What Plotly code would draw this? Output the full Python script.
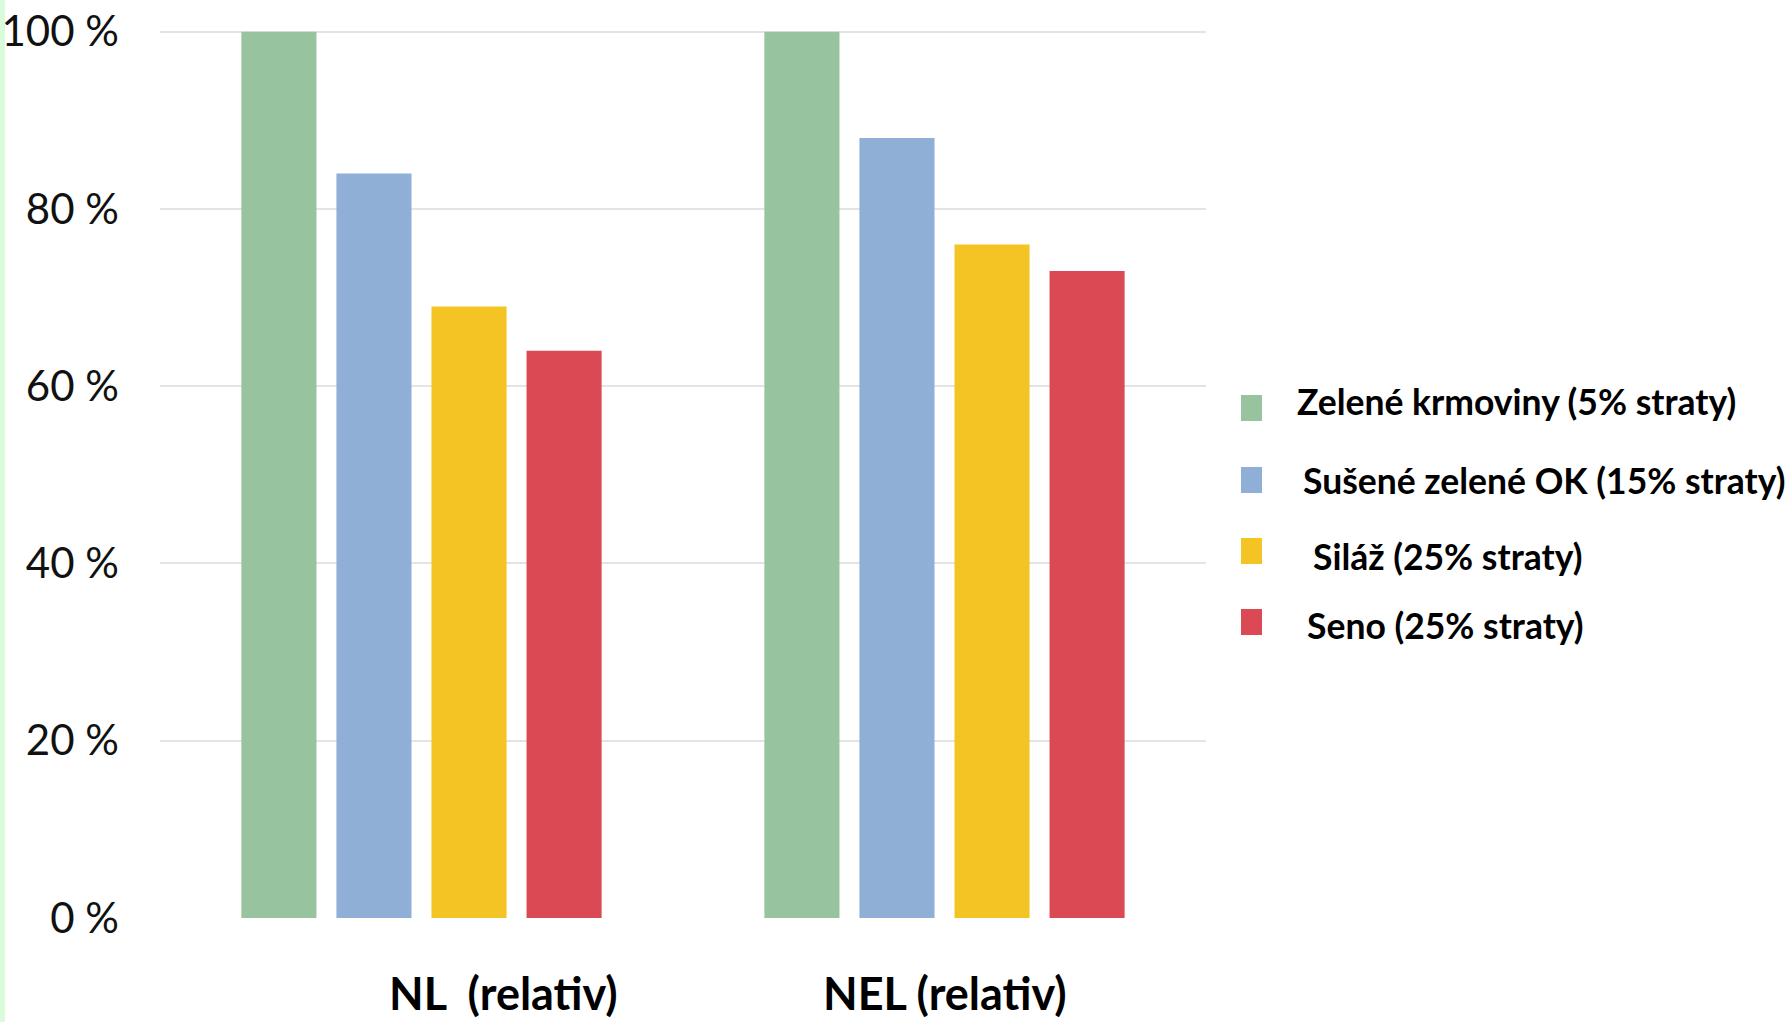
import plotly.graph_objects as go

# ---- data -------------------------------------------------------------
categories = ["NL  (relativ)", "NEL (relativ)"]
series_names = [
    "Zelené krmoviny (5% straty)",
    "Sušené zelené OK (15% straty)",
    "Siláž (25% straty)",
    "Seno (25% straty)",
]
zelene_krmoviny = [100, 100]
susene_zelene_ok = [84, 88]
silaz = [69, 76]
seno = [64, 73]
tick_values = [0, 20, 40, 60, 80, 100]
tick_labels = ["0 %", "20 %", "40 %", "60 %", "80 %", "100 %"]

# ---- style ------------------------------------------------------------
colors = ["#98c39f", "#8fafd7", "#f4c425", "#db4a54"]
FONT = "Lato, Carlito, Calibri, sans-serif"

W, H = 1787, 1022
L, R = 160, 1206          # plot area, pixels
T, B = 14, 918
PW, PH = R - L, B - T


def px_x(x):
    return (x - L) / PW


def px_y(y):
    return (B - y) / PH


fig = go.Figure()
values = [zelene_krmoviny, susene_zelene_ok, silaz, seno]
for name, vals, col in zip(series_names, values, colors):
    fig.add_trace(go.Bar(
        x=categories, y=vals, name=name,
        marker=dict(color=col, line=dict(width=0)),
        showlegend=False,
    ))

# category labels under the groups
label_shift = [82, 0]
for cat, dx in zip(categories, label_shift):
    fig.add_annotation(
        x=cat, xref="x", y=0, yref="paper", yanchor="middle", xanchor="center",
        yshift=-(993 - B), xshift=dx, showarrow=False,
        text=f"<b>{cat.replace('  ', '&nbsp; ')}</b>",
        font=dict(family=FONT, size=45, color="#000000"),
    )

# legend drawn as swatches + labels
row_mid = [408, 480, 551, 622]
text_mid = [401, 480, 556, 625]
text_x = [1295, 1301, 1311, 1305]
for name, col, ym, ty, tx in zip(series_names, colors, row_mid, text_mid, text_x):
    fig.add_shape(
        type="rect", xref="paper", yref="paper",
        x0=px_x(1241), x1=px_x(1262), y0=px_y(ym + 13), y1=px_y(ym - 13),
        fillcolor=col, line=dict(width=0),
    )
    fig.add_annotation(
        x=px_x(tx), y=px_y(ty), xref="paper", yref="paper",
        xanchor="left", yanchor="middle", showarrow=False,
        text=f"<b>{name}</b>",
        font=dict(family=FONT, size=35.5, color="#000000"),
    )

# thin green strip along the left edge
fig.add_shape(
    type="rect", xref="paper", yref="paper",
    x0=px_x(0), x1=px_x(5), y0=px_y(H), y1=px_y(0),
    fillcolor="#dbfcdb", line=dict(width=0), layer="below",
)

fig.update_layout(
    width=W, height=H,
    margin=dict(l=L, r=W - R, t=T, b=H - B, pad=0, autoexpand=False),
    paper_bgcolor="white", plot_bgcolor="white",
    barmode="group", bargap=0.273, bargroupgap=0.21,
    font=dict(family=FONT, color="#000000"),
)
fig.update_xaxes(
    range=[-0.5, 1.5], showticklabels=False, showgrid=False,
    zeroline=False, showline=False, ticks="", automargin=False,
)
fig.update_yaxes(
    range=[0, 102], tickvals=tick_values, ticktext=tick_labels,
    tickfont=dict(family=FONT, size=42, color="#111111"),
    showgrid=True, gridcolor="#e4e4e4", gridwidth=2,
    zeroline=False, showline=False, ticks="", ticklabelstandoff=40,
    automargin=False,
)

fig.write_html("out.html")
